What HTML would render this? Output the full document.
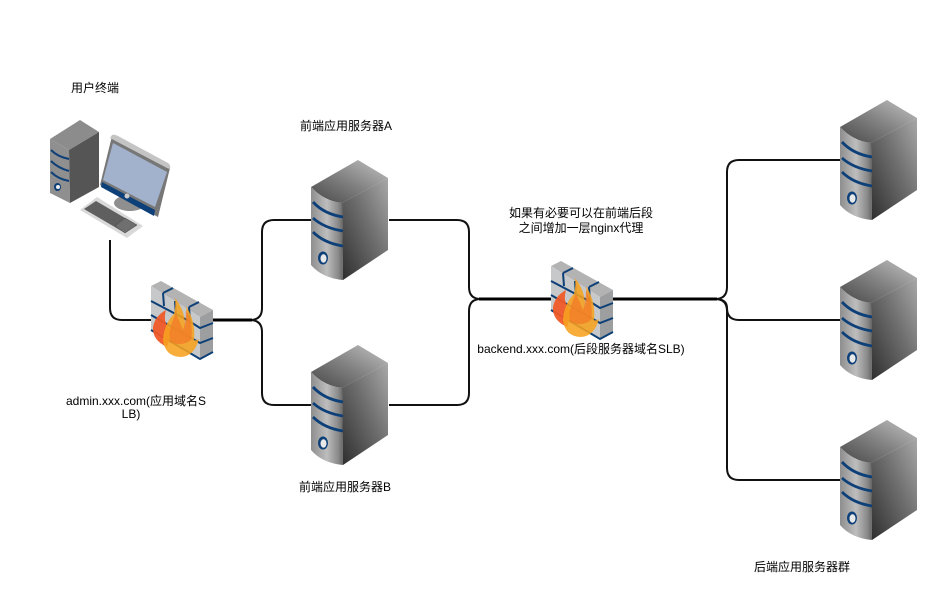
<!DOCTYPE html>
<html><head><meta charset="utf-8"><style>
html,body{margin:0;padding:0;background:#fff;width:937px;height:594px;overflow:hidden}
svg{display:block}
text{font-family:"Liberation Sans","Noto Sans CJK SC",sans-serif;font-size:12px;fill:#000;text-anchor:middle}
</style></head><body>
<svg width="937" height="594" viewBox="0 0 937 594" xmlns="http://www.w3.org/2000/svg">
<defs>
<linearGradient id="top" x1="0" y1="1" x2="1" y2="0"><stop offset="0" stop-color="#484848"/><stop offset=".5" stop-color="#828282"/><stop offset="1" stop-color="#c4c4c4"/></linearGradient>
<linearGradient id="front" x1="0" y1="0" x2="1" y2="0"><stop offset="0" stop-color="#8e8e8e"/><stop offset=".5" stop-color="#bdbdbd"/><stop offset=".85" stop-color="#8a8a8a"/><stop offset="1" stop-color="#666"/></linearGradient>
<linearGradient id="side" x1="0" y1="1" x2="1" y2="0"><stop offset="0" stop-color="#2e2e2e"/><stop offset=".55" stop-color="#6e6e6e"/><stop offset="1" stop-color="#a8a8a8"/></linearGradient>
<g id="server">
<path d="M1 27L48 0L78 18L32 43Q14 41 1 27Z" fill="url(#top)"/>
<path d="M1 27Q14 41 32 43L33 120Q12 118 1 105Z" fill="url(#front)"/>
<path d="M32 43L78 18V90L33 120Z" fill="url(#side)"/>
<path d="M3 42Q14 54 33 57M3 58Q14 68 33 71M3 72Q14 83 33 86" fill="none" stroke="#0d3f78" stroke-width="2.800"/>
<ellipse cx="13" cy="98" rx="5" ry="6.500" fill="#0d3f78"/>
<ellipse cx="13.500" cy="98.500" rx="3" ry="4.200" fill="#e8e8e8"/>
</g>
<g id="fw">
<path d="M1 6L11 1L63 30L50 37Z" fill="#b3b3b3"/>
<path d="M1 6L50 37V79L1 50Z" fill="#c6c8ca"/>
<path d="M50 37L63 30V72L50 79Z" fill="#9c9ea0"/>
<g fill="none" stroke="#0d4077" stroke-width="2">
<path d="M1 21L39 41L50 48L63 43M1 35L50 63L63 58M1 50L50 79L63 72"/>
<path d="M13 13L23 8M13 13L14 26M39 27L49 22M39 27L40 41M25 21L26 35"/>
</g>
<path d="M17 67Q2 60 3 47Q5 36 16 30Q12 44 22 50Z" fill="#f05a28" opacity=".95"/>
<path d="M25 18Q36 32 35 48Q38 40 36 26Q46 42 44 60Q46 61 49 59Q44 77 30 77Q15 76 13 60Q14 44 24 34Q26 26 25 18Z" fill="#f7a21f" opacity=".88"/>
<path d="M20 62Q18 48 26 34Q30 42 33 50Q36 42 36 30Q44 45 41 60Q32 67 20 62Z" fill="#f27a26" opacity=".75"/>
</g>
</defs>

<g fill="none" stroke="#111" stroke-width="2">
<path d="M110 240V308Q110 320 122 320H151"/>
<path d="M250 320Q262 320 262 308V232Q262 220 274 220H311" />
<path d="M250 320Q262 320 262 332V393Q262 405 274 405H311"/>
<path d="M389 220H457Q469 220 469 232V287Q469 299 481 299"/>
<path d="M389 405H457Q469 405 469 393V311Q469 299 481 299"/>
<path d="M715 299Q727 299 727 287V172Q727 160 739 160H841"/>
<path d="M715 299Q727 299 727 308Q727 320 739 320H841"/>
<path d="M715 299Q727 299 727 311V468Q727 480 739 480H841"/>
</g>
<g fill="none" stroke="#000" stroke-width="3">
<path d="M213 320H252"/>
<path d="M479 299H551"/>
<path d="M612 299H717"/>
</g>

<use href="#server" x="310" y="160"/>
<use href="#server" x="310" y="345"/>
<use href="#server" x="839" y="100"/>
<use href="#server" x="839" y="260"/>
<use href="#server" x="839" y="420"/>
<use href="#fw" x="150" y="280"/>
<use href="#fw" x="550" y="260"/>

<!-- computer -->
<path d="M50 139L80 120L99 132L69 150Z" fill="#8c8c8c"/>
<path d="M50 139L69 150L70 203L50 193Z" fill="#8f8f8f"/>
<path d="M69 150L99 132V187L70 203Z" fill="#555"/>
<path d="M51 150Q58 157 69 159M51 161Q58 168 69 171M51 172Q58 179 69 181" fill="none" stroke="#0d3f78" stroke-width="2"/>
<ellipse cx="57.500" cy="187" rx="3.500" ry="4" fill="#0d3f78"/><circle cx="58" cy="187" r="2" fill="#eee"/>
<ellipse cx="130" cy="203" rx="16" ry="8" fill="#8f8f8f"/>
<path d="M112 136L170 168L158 217L100 185Z" fill="#777"/>
<path d="M110 138L112 135Q114 134 118 136L168 163Q171 165 170 169L167 168Z" fill="#c4c4c4"/>
<path d="M113 143L167 172L155 207L103 180Z" fill="#a3b2cc"/>
<path d="M102 182L155 210L154 216L101 187Z" fill="#0d3f78"/>
<circle cx="127" cy="196" r="2.500" fill="#ccc"/>
<path d="M97 197L143 226L127 238L80 210Z" fill="#d9d9d9"/>
<path d="M96 201L137 225L125 233L84 209Z" fill="#5f5f5f"/>
<path d="M125 218L137 225L125 233L115 226Z" fill="#6f6f6f" stroke="#444" stroke-width=".5"/>

<text x="95" y="92">用户终端</text>
<text x="346" y="130">前端应用服务器A</text>
<text x="345" y="491">前端应用服务器B</text>
<text x="581" y="217">如果有必要可以在前端后段</text>
<text x="581" y="232">之间增加一层nginx代理</text>
<text x="581" y="353">backend.xxx.com(后段服务器域名SLB)</text>
<text x="136" y="405">admin.xxx.com(应用域名S</text>
<text x="131" y="418">LB)</text>
<text x="802" y="571">后端应用服务器群</text>
</svg>
</body></html>
